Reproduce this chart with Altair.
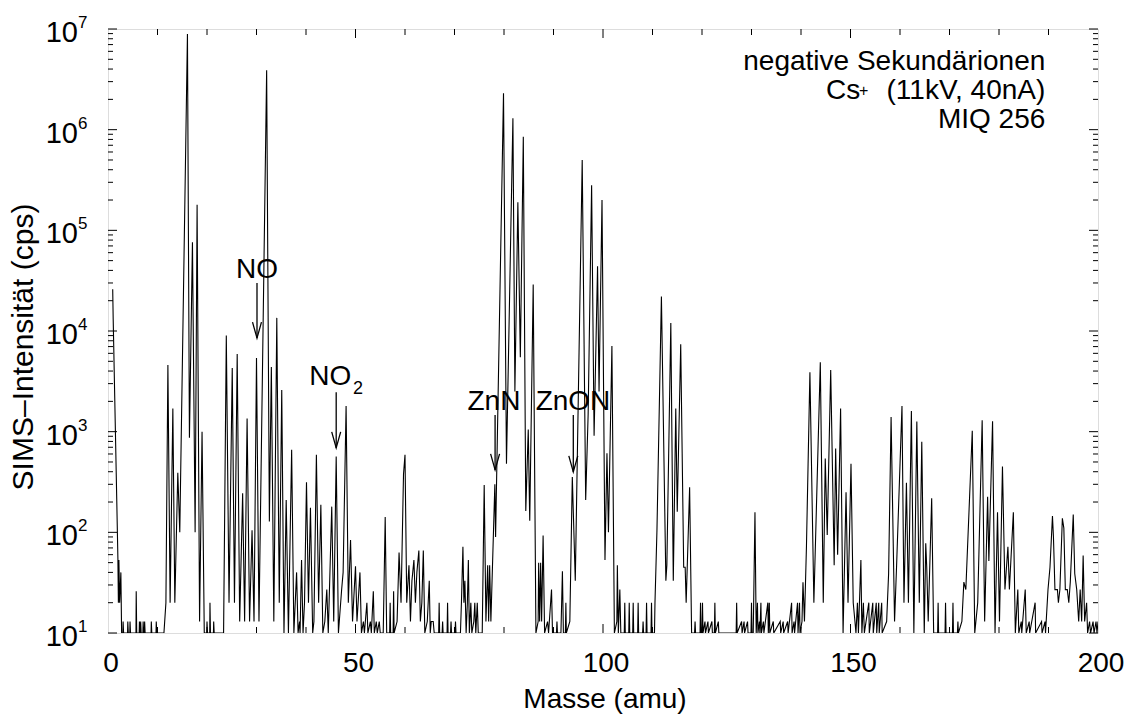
import altair as alt
import pandas as pd

FONT = "Liberation Sans"

# ---------------- spectrum (mass in amu, intensity in cps) ----------------
seg_a = [(0.95, 26000), (1.05, 13000), (2.0, 55), (2.1, 20), (2.2, 53), (2.35, 20), (2.6, 40), (2.75, 10),
         (3.0, 10), (3.05, 13), (3.15, 10), (3.95, 10), (4.0, 13), (4.1, 10), (4.4, 10), (4.45, 13), (4.55, 10),
         (5.65, 10), (5.7, 26), (5.8, 10), (6.3, 10), (6.35, 13), (6.45, 10), (6.55, 10), (6.6, 13), (6.7, 10),
         (7.05, 10), (7.1, 13), (7.2, 10), (7.35, 10), (7.4, 13), (7.5, 10), (8.7, 10), (8.75, 13), (8.85, 10),
         (9.7, 10), (9.75, 13), (9.85, 10), (11.3, 10)]

seg_b = [(11.7, 20), (12.1, 4600), (12.55, 20), (13.1, 1700), (13.5, 20), (14.1, 390), (14.5, 100),
         (16.05, 8.9e6), (16.45, 870), (17.06, 7.6e4), (17.6, 100), (18.0, 1.8e5), (18.5, 13), (19.0, 1000),
         (19.45, 10), (19.95, 10), (20.0, 13), (20.1, 10), (20.55, 10), (20.6, 20), (20.7, 10), (21.3, 10),
         (21.35, 13), (21.45, 10), (23.35, 10)]

seg_c = [(23.9, 9000), (24.45, 20), (25.1, 4300), (25.55, 20), (26.1, 5900), (26.6, 13), (27.2, 245),
         (27.6, 13), (28.1, 1350), (28.6, 13), (29.1, 105), (29.5, 13), (30.0, 5400), (30.5, 13),
         (32.05, 3.9e6), (32.6, 128), (33.0, 4400), (33.5, 13), (34.1, 13500), (34.6, 20), (35.1, 2600),
         (35.55, 10), (36.0, 210), (36.45, 10), (37.1, 660), (37.55, 10), (38.1, 40), (38.4, 10), (38.7, 13),
         (38.8, 10), (39.1, 53), (39.4, 10), (39.7, 20), (40.1, 315), (40.5, 20), (40.9, 175), (41.35, 10),
         (41.6, 13), (42.1, 590), (42.55, 20), (43.0, 188), (43.4, 10), (43.8, 13), (44.2, 27), (44.5, 10),
         (45.2, 180), (45.6, 13), (46.1, 565), (46.55, 10), (47.2, 27), (47.5, 40), (48.1, 1800), (48.55, 20),
         (49.0, 84), (49.4, 13), (50.0, 46), (50.3, 13), (50.9, 40), (51.2, 10), (51.6, 13), (51.8, 10),
         (52.3, 20), (52.5, 10), (53.0, 13), (53.2, 10), (53.6, 26), (53.8, 10), (54.2, 13), (54.4, 10),
         (54.8, 13), (55.0, 10), (55.6, 10), (56.0, 142), (56.3, 10)]

seg_d = [(56.9, 10), (57.0, 20), (57.1, 10), (57.6, 10), (57.7, 26), (57.8, 10), (58.4, 13), (58.8, 63),
         (59.2, 20), (59.7, 380), (60.0, 590), (60.35, 20), (60.8, 47), (61.1, 13), (61.4, 33), (61.8, 53),
         (62.1, 20), (62.4, 40), (62.8, 66), (63.1, 13), (63.4, 20), (63.7, 66), (64.0, 10), (64.5, 13),
         (64.9, 33), (65.1, 10), (65.3, 13), (65.5, 13), (65.7, 13), (65.9, 10), (66.8, 10), (66.9, 20),
         (67.0, 10), (67.5, 10), (67.6, 13), (67.7, 10), (68.5, 10), (68.6, 20), (68.7, 10), (69.2, 10),
         (69.3, 13), (69.4, 10), (70.1, 10), (70.2, 13), (70.3, 10), (71.2, 10), (71.4, 20), (71.7, 72),
         (71.9, 20), (72.1, 33), (72.35, 10), (72.6, 20), (72.8, 53), (73.0, 10), (73.3, 20), (73.5, 10),
         (73.9, 13), (74.1, 20), (74.3, 10), (74.6, 20), (74.8, 10), (75.6, 10), (76.0, 295), (76.35, 13),
         (76.7, 47), (76.9, 13), (77.1, 47), (77.35, 13), (78.15, 300), (78.3, 90), (79.9, 2.3e6), (80.5, 480),
         (81.8, 1.3e6), (82.2, 2500), (82.8, 1.9e5), (83.3, 5500), (83.9, 8.5e5), (84.4, 163), (84.9, 1050),
         (85.2, 130), (85.9, 2.9e4), (86.45, 10), (86.9, 13), (87.0, 50), (87.2, 13), (87.4, 50), (87.6, 13),
         (87.9, 93), (88.2, 10), (88.8, 13), (89.0, 10), (89.6, 27), (89.8, 10)]

seg_e = [(90.6, 10), (90.7, 13), (90.8, 10), (91.5, 10), (91.8, 41), (92.0, 10), (92.4, 10), (92.5, 20),
         (92.6, 10), (93.3, 13), (93.8, 355), (94.4, 33), (95.8, 5.0e5), (96.5, 210), (97.0, 1500),
         (97.7, 2.8e5), (98.2, 910), (98.9, 4.4e4), (99.2, 2500), (99.8, 2.0e5), (100.4, 53), (100.8, 610),
         (101.1, 100), (101.8, 7100), (102.3, 10), (102.8, 13), (102.9, 47), (103.1, 10), (103.4, 27),
         (103.6, 10), (104.3, 10), (104.4, 20), (104.5, 10), (105.2, 10), (105.3, 20), (105.4, 10), (106.0, 10),
         (106.1, 20), (106.2, 10), (107.0, 10), (107.1, 20), (107.2, 10), (108.0, 10), (108.1, 13), (108.2, 10),
         (108.7, 10), (108.8, 20), (108.9, 10), (109.7, 10), (109.8, 20), (109.9, 10), (110.4, 10), (110.5, 20),
         (110.9, 105), (111.8, 2.2e4), (112.7, 33), (112.9, 47), (113.7, 1.2e4), (114.2, 33), (114.7, 1700),
         (115.0, 160), (115.7, 7400), (116.3, 45), (116.6, 45), (116.8, 20), (117.5, 280), (117.9, 10)]

seg_f = [(118.5, 10), (118.6, 13), (118.7, 10), (119.6, 10), (119.7, 20), (119.8, 10), (120.0, 10),
         (120.1, 20), (120.2, 10), (120.6, 13), (120.7, 10), (121.2, 13), (121.3, 10), (122.0, 13), (122.1, 10),
         (122.5, 10), (122.6, 20), (122.7, 10), (123.3, 13), (123.4, 10), (126.9, 10), (127.0, 20), (127.1, 10),
         (128.0, 13), (128.1, 10), (128.5, 13), (128.6, 10), (129.2, 13), (129.3, 10), (129.9, 10), (130.0, 20),
         (130.1, 10), (130.35, 10), (130.7, 158), (130.95, 10), (131.2, 20), (131.3, 10), (131.6, 13),
         (131.7, 10), (131.9, 20), (132.0, 10), (132.4, 13), (132.5, 10), (133.3, 20), (133.4, 10), (133.6, 20),
         (133.7, 10), (134.4, 13), (134.5, 10), (135.8, 13), (135.9, 10), (136.4, 13), (136.5, 10), (137.3, 13),
         (137.4, 10), (138.1, 20), (138.2, 10), (138.6, 13), (138.7, 10), (139.3, 20), (139.4, 10), (139.7, 20),
         (139.8, 10), (140.2, 13), (140.4, 32), (140.7, 13), (141.1, 72), (141.8, 3900), (142.6, 20),
         (143.9, 4900), (144.5, 20), (144.9, 540), (145.3, 94), (146.0, 4100), (146.7, 47), (147.0, 680),
         (147.4, 60), (148.0, 1700), (148.5, 10), (149.1, 250), (149.5, 20), (150.1, 480), (150.55, 20),
         (150.9, 13), (151.1, 10), (151.4, 20), (151.6, 10), (152.1, 53), (152.3, 10), (152.6, 20), (152.8, 10),
         (153.7, 20), (153.8, 10), (154.5, 20), (154.6, 10), (155.2, 20), (155.3, 10), (155.7, 20), (155.8, 10),
         (156.3, 20), (156.4, 10), (157.3, 13), (157.7, 39), (158.2, 1400), (158.9, 13), (159.3, 45),
         (160.4, 1800), (160.8, 20), (161.3, 310), (161.7, 20), (162.3, 1600), (162.8, 10), (163.4, 1260),
         (163.9, 20), (164.4, 795), (164.9, 10), (165.2, 78), (165.4, 45), (165.7, 13), (166.4, 218), (166.8, 10)]

seg_g = [(167.6, 10), (167.7, 20), (167.8, 10), (169.1, 10), (169.2, 20), (169.3, 10), (170.6, 10),
         (170.7, 20), (170.8, 10), (171.6, 10), (171.7, 13), (171.8, 10), (172.5, 13), (172.9, 32), (173.3, 27),
         (174.6, 1020), (175.1, 10), (175.7, 20), (176.6, 1300), (177.1, 13), (177.7, 225), (177.95, 52),
         (178.7, 1270), (179.2, 10), (179.7, 158), (180.1, 13), (180.7, 450), (181.2, 27), (181.8, 72),
         (182.1, 27), (182.9, 158), (183.3, 10), (183.8, 27), (184.0, 10), (184.5, 13), (184.6, 10), (185.3, 27),
         (185.5, 10), (186.1, 13), (186.2, 10), (187.3, 20), (187.4, 10), (188.6, 13), (188.7, 10), (189.3, 13),
         (189.4, 10), (189.9, 27), (190.3, 45), (190.8, 145), (191.0, 90), (191.3, 27), (191.8, 27), (192.0, 20),
         (192.3, 27), (192.8, 138), (193.1, 110), (193.4, 27), (193.8, 27), (194.1, 20), (194.4, 32),
         (195.0, 150), (195.3, 39), (195.7, 27), (196.1, 13), (196.4, 27), (196.7, 13), (197.0, 59), (197.3, 13),
         (197.7, 20), (197.9, 10), (198.3, 13), (198.5, 10), (199.0, 13), (199.2, 10), (199.6, 13), (199.8, 10),
         (200.0, 13)]

# axis ticks / labels
x_label_values = [0, 50, 100, 150, 200]
x_major_ticks = [50, 100, 150]
x_minor_ticks = [10, 20, 30, 40, 60, 70, 80, 90, 110, 120, 130, 140, 160, 170, 180, 190]
y_major_ticks = [1e1, 1e2, 1e3, 1e4, 1e5, 1e6, 1e7]
y_exponents = ["1", "2", "3", "4", "5", "6", "7"]
y_minor_ticks = [d * 10 ** k for k in range(1, 7) for d in range(2, 10)]
x_title = "Masse (amu)"
y_title = "SIMS–Intensität (cps)"

# annotations (positions in data units)
arrow_mass = [30.1, 46.1, 78.2, 94.0]
arrow_top = [2.99e4, 2.47e3, 1.46e3, 1.46e3]
arrow_tip = [8.5e3, 690, 417, 398]

peak_label_text = ["NO", "NO", "ZnN", "ZnON"]
peak_label_mass = [30.1, 44.92, 77.97, 93.94]
peak_label_cps = [4.03e4, 3.48e3, 1.97e3, 1.97e3]
sub_text = ["2"]
sub_mass = [50.48]
sub_cps = [2.65e3]

info_text = ["negative Sekundärionen", "(11kV, 40nA)", "MIQ 256", "Cs"]
info_mass = [189.35, 189.35, 189.35, 151.96]
info_cps = [3.90e6, 2.03e6, 1.035e6, 2.03e6]
plus_text = ["+"]
plus_mass = [152.66]
plus_cps = [2.41e6]

# ---------------- build chart ----------------
W, H = 990, 604
rows = seg_a + seg_b + seg_c + seg_d + seg_e + seg_f + seg_g
spec = pd.DataFrame(rows, columns=["mass", "cps"])
spec["order"] = range(len(spec))

xs = alt.Scale(domain=[0, 200], nice=False, zero=False)
ys = alt.Scale(type="log", domain=[10, 1e7], nice=False)


def X(field):
    return alt.X(field, type="quantitative", scale=xs, axis=None)


def Y(field):
    return alt.Y(field, type="quantitative", scale=ys, axis=None)


line = alt.Chart(spec).mark_line(color="black", strokeWidth=1.1, clip=True).encode(
    x=X("mass"), y=Y("cps"), order="order:Q")


def y_ticks(values, length, right):
    df = pd.DataFrame({"v": values})
    x0 = W if right else 0
    x1 = W - length if right else length
    return alt.Chart(df).mark_rule(color="black", strokeWidth=1).encode(
        y=Y("v"), x=alt.value(x0), x2=alt.value(x1))


def x_ticks(values, length, bottom):
    df = pd.DataFrame({"m": values})
    y0 = H if bottom else 0
    y1 = H - length if bottom else length
    return alt.Chart(df).mark_rule(color="black", strokeWidth=1).encode(
        x=X("m"), y=alt.value(y0), y2=alt.value(y1))


ticks = [
    y_ticks(y_major_ticks, 9, False), y_ticks(y_minor_ticks, 5, False),
    y_ticks(y_major_ticks, 9, True), y_ticks(y_minor_ticks, 5, True),
    x_ticks(x_major_ticks, 9, False), x_ticks(x_minor_ticks, 6, False),
    x_ticks(x_major_ticks, 9, True), x_ticks(x_minor_ticks, 6, True),
]

# y tick labels 10^k
ylab = pd.DataFrame({"v": y_major_ticks, "exp": y_exponents})
ten = alt.Chart(ylab).mark_text(text="10", font=FONT, fontSize=29, align="right",
                                baseline="alphabetic", dy=13, color="black").encode(
    y=Y("v"), x=alt.value(-30))
expo = alt.Chart(ylab).mark_text(font=FONT, fontSize=17, align="left",
                                 baseline="alphabetic", dy=-1, color="black").encode(
    y=Y("v"), x=alt.value(-30), text="exp:N")

# x tick labels
xlab = pd.DataFrame({"m": x_label_values, "t": [str(v) for v in x_label_values]})
xlabels = alt.Chart(xlab).mark_text(font=FONT, fontSize=28, align="center", baseline="alphabetic",
                                    dx=3, color="black").encode(
    x=X("m"), y=alt.value(H + 39), text="t:N")

# axis titles
xt = alt.Chart(pd.DataFrame({"t": [x_title]})).mark_text(
    font=FONT, fontSize=28, align="center", baseline="alphabetic", color="black").encode(
    x=alt.value(W / 2 + 2), y=alt.value(H + 75), text="t:N")
yt = alt.Chart(pd.DataFrame({"t": [y_title]})).mark_text(
    font=FONT, fontSize=30, align="center", baseline="alphabetic", angle=270, color="black").encode(
    x=alt.value(-75), y=alt.value(318), text="t:N")

# arrows
arrows_df = pd.DataFrame({"mass": arrow_mass, "top": arrow_top, "tip": arrow_tip})
shafts = alt.Chart(arrows_df).mark_rule(color="black", strokeWidth=1.3).encode(
    x=X("mass"), y=Y("top"), y2="tip:Q")
heads = alt.Chart(arrows_df).mark_point(shape="M-0.28,-1L0,0L0.28,-1", size=1024, filled=False,
                                        color="black", strokeWidth=1.3, opacity=1).encode(
    x=X("mass"), y=Y("tip"))

pl_df = pd.DataFrame({"mass": peak_label_mass, "cps": peak_label_cps, "t": peak_label_text})
peak_labels = alt.Chart(pl_df).mark_text(font=FONT, fontSize=28, align="center",
                                         baseline="middle", color="black").encode(
    x=X("mass"), y=Y("cps"), text="t:N")

sub_df = pd.DataFrame({"mass": sub_mass, "cps": sub_cps, "t": sub_text})
sub_labels = alt.Chart(sub_df).mark_text(font=FONT, fontSize=18, align="center",
                                         baseline="middle", color="black").encode(
    x=X("mass"), y=Y("cps"), text="t:N")

info_df = pd.DataFrame({"mass": info_mass, "cps": info_cps, "t": info_text})
info = alt.Chart(info_df).mark_text(font=FONT, fontSize=28, align="right",
                                    baseline="alphabetic", color="black").encode(
    x=X("mass"), y=Y("cps"), text="t:N")

plus_df = pd.DataFrame({"mass": plus_mass, "cps": plus_cps, "t": plus_text})
plus = alt.Chart(plus_df).mark_text(font=FONT, fontSize=16, align="center",
                                    baseline="middle", color="black").encode(
    x=X("mass"), y=Y("cps"), text="t:N")

chart = alt.layer(line, *ticks, ten, expo, xlabels, xt, yt, shafts, heads,
                  peak_labels, sub_labels, info, plus).properties(
    width=W, height=H,
    padding={"left": 108, "top": 29, "right": 33, "bottom": 87},
    autosize=alt.AutoSizeParams(type="none"),
    background="white",
).configure_view(stroke="black", strokeWidth=2).configure(font=FONT)

chart.save("out.html", embed_options={"renderer": "svg", "actions": False})
